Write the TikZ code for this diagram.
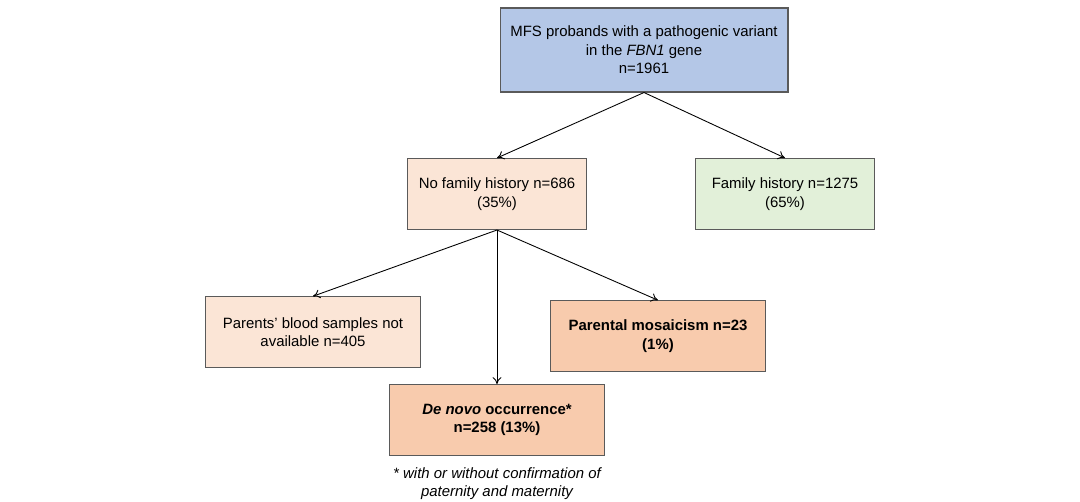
\documentclass[tikz,border=0pt]{standalone}
\usepackage{fontspec}
\setmainfont{Liberation Sans}
\usepackage{tikz}
\usetikzlibrary{arrows.meta, positioning}
\definecolor{probandcolor}{RGB}{180,199,231}
\definecolor{nofamcolor}{RGB}{251,229,214}
\definecolor{famcolor}{RGB}{226,240,217}
\definecolor{outcomecolor}{RGB}{248,203,173}
\definecolor{edgecolor}{RGB}{90,90,90}

\begin{document}
\begin{tikzpicture}[
  x=0.02cm, y=-0.02cm,
  box/.style={draw=edgecolor, line width=0.6pt, align=center,
              font=\fontsize{8.5}{10.6}\selectfont, inner sep=2pt},
  small/.style={box, minimum width=3.58cm, minimum height=1.42cm},
  wide/.style={box, minimum width=4.3cm, minimum height=1.41cm},
  note/.style={align=center, font=\fontsize{8.5}{10.2}\selectfont\itshape},
  arr/.style={-{To[length=4pt,width=5pt]}, line width=0.5pt}
]
\useasboundingbox (0,0) rectangle (1080,502);

\node[box, fill=probandcolor, minimum width=5.76cm, minimum height=1.68cm] (mfs) at (644,50)
  {MFS probands with a pathogenic variant\\ in the \textit{FBN1} gene\\ n=1961};
\node[small, fill=nofamcolor] (nofam) at (497,194) {No family history n=686\\ (35\%)};
\node[small, fill=famcolor] (fam) at (785,194) {Family history n=1275\\ (65\%)};

\node[wide, fill=nofamcolor] (blood) at (313,332) {Parents' blood samples not\\ available n=405};
\node[wide, fill=outcomecolor, font=\fontsize{8.5}{10.6}\selectfont\bfseries] (mosaic) at (658,336)
  {Parental mosaicism n=23\\ (1\%)};
\node[wide, fill=outcomecolor, font=\fontsize{8.5}{10.6}\selectfont\bfseries] (denovo) at (497,420)
  {\textit{De novo} occurrence*\\ n=258 (13\%)};
\node[note, below=0.12cm of denovo] (foot) {* with or without confirmation of\\ paternity and maternity};

\draw[arr] (mfs.south) -- (nofam.north);
\draw[arr] (mfs.south) -- (fam.north);
\draw[arr] (nofam.south) -- (blood.north);
\draw[arr] (nofam.south) -- (denovo.north);
\draw[arr] (nofam.south) -- (mosaic.north);
\end{tikzpicture}
\end{document}
